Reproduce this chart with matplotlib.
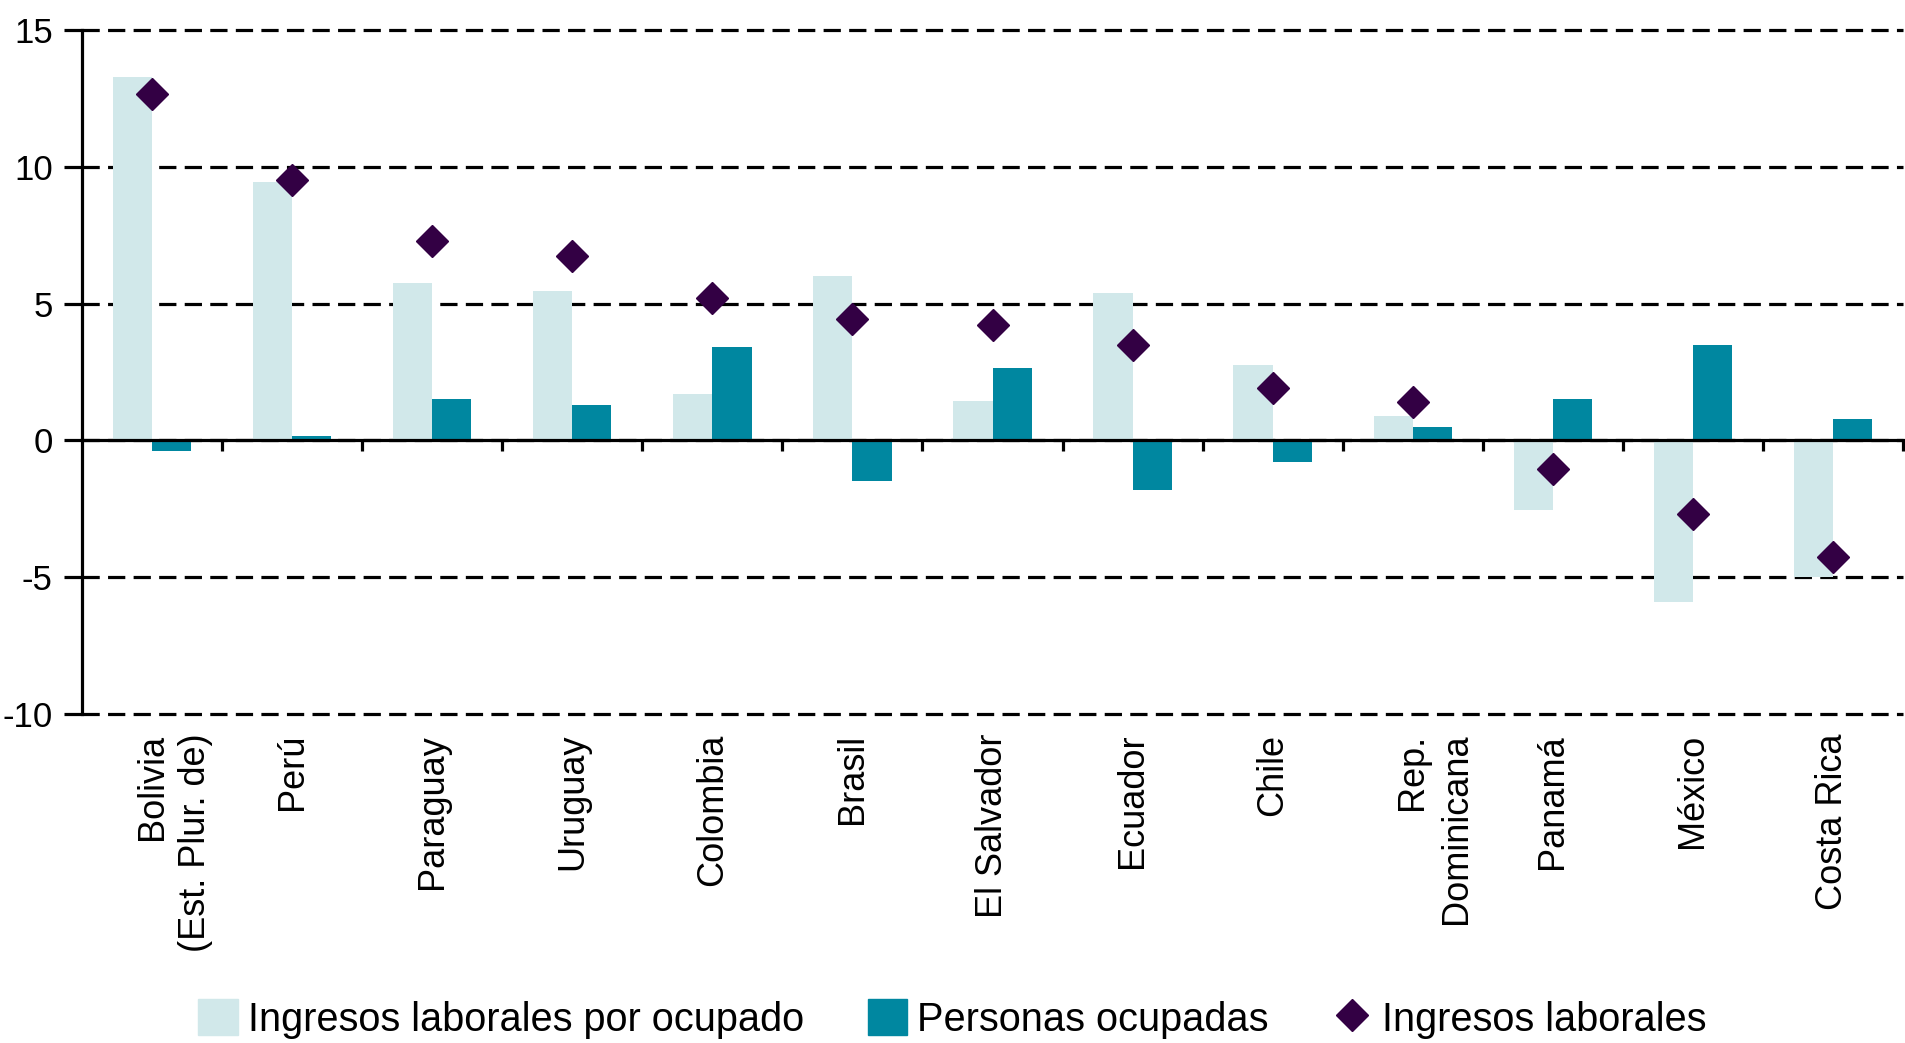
import numpy as np
import matplotlib
matplotlib.use('Agg')
import matplotlib.pyplot as plt
from matplotlib.patches import Patch
from matplotlib.lines import Line2D
import matplotlib.transforms as mtransforms

plt.rcParams['font.family'] = ['Liberation Sans', 'DejaVu Sans']

# datos (variación, %)
paises = ['Bolivia\n(Est. Plur. de)', 'Perú', 'Paraguay', 'Uruguay', 'Colombia', 'Brasil',
          'El Salvador', 'Ecuador', 'Chile', 'Rep.\nDominicana', 'Panamá', 'México', 'Costa Rica']
ingresos_por_ocupado = [13.3, 9.45, 5.75, 5.45, 1.7, 6.0, 1.45, 5.4, 2.75, 0.9, -2.55, -5.9, -5.0]
personas_ocupadas = [-0.4, 0.15, 1.5, 1.3, 3.4, -1.5, 2.65, -1.8, -0.8, 0.5, 1.5, 3.5, 0.8]
ingresos_laborales = [12.65, 9.5, 7.3, 6.75, 5.2, 4.45, 4.2, 3.5, 1.9, 1.4, -1.05, -2.7, -4.25]

yticks = [-10, -5, 0, 5, 10, 15]

c_claro = '#D1E8EA'
c_oscuro = '#0087A0'
c_rombo = '#330044'

fig = plt.figure(figsize=(19.05, 10.43), dpi=100)
ax = fig.add_axes([82/1905, 1-714/1043, (1903-82)/1905, (714-30)/1043])

x = np.arange(len(paises))
w = 0.28
ax.bar(x - w/2, ingresos_por_ocupado, width=w, color=c_claro, zorder=2)
ax.bar(x + w/2, personas_ocupadas, width=w, color=c_oscuro, zorder=2)
ax.plot(x, ingresos_laborales, linestyle='none', marker='D', ms=16, color=c_rombo, zorder=3)

ax.set_xlim(-0.5, len(paises) - 0.5)
ax.set_ylim(-10, 15)
ax.set_yticks(yticks)
ax.set_yticklabels([str(v) for v in yticks], fontsize=25)

# lineas de division punteadas
ax.yaxis.grid(True, color='black', linewidth=2.3, linestyle=(0, (5.4, 2.6)), zorder=1)
for gl in ax.get_ygridlines():
    gl.set_clip_on(False)
ax.set_axisbelow(True)

for s in ['top', 'right']:
    ax.spines[s].set_visible(False)
ax.spines['bottom'].set_position(('data', 0))
ax.spines['bottom'].set_linewidth(2.3)
ax.spines['bottom'].set_zorder(4)
ax.spines['left'].set_linewidth(2.3)

ax.set_xticks(list(x + 0.5), labels=[])
ax.tick_params(axis='x', direction='out', length=8, width=2.3)
ax.tick_params(axis='y', direction='out', length=13, width=2.3, pad=8)

# etiquetas de paises (una linea por texto)
trans = mtransforms.blended_transform_factory(ax.transData, ax.transAxes)
for xi, nombre in zip(x, paises):
    for k, linea in enumerate(nombre.split('\n')):
        tr = mtransforms.offset_copy(trans, fig=fig, x=k * 31.3, y=0, units='points')
        ax.text(xi, -0.029, linea, transform=tr, rotation=90, rotation_mode='anchor',
                ha='right', va='center', fontsize=26)

handles = [Patch(color=c_claro, label='Ingresos laborales por ocupado'),
           Patch(color=c_oscuro, label='Personas ocupadas'),
           Line2D([], [], linestyle='none', marker='D', ms=16, color=c_rombo, label='Ingresos laborales')]
fig.legend(handles=handles, loc='center', bbox_to_anchor=(0.5, 0.023), ncol=3, frameon=False,
           fontsize=28.6, handlelength=1.0, handleheight=1.0, handletextpad=0.25, columnspacing=1.6)

fig.savefig('out.png', dpi=100)
